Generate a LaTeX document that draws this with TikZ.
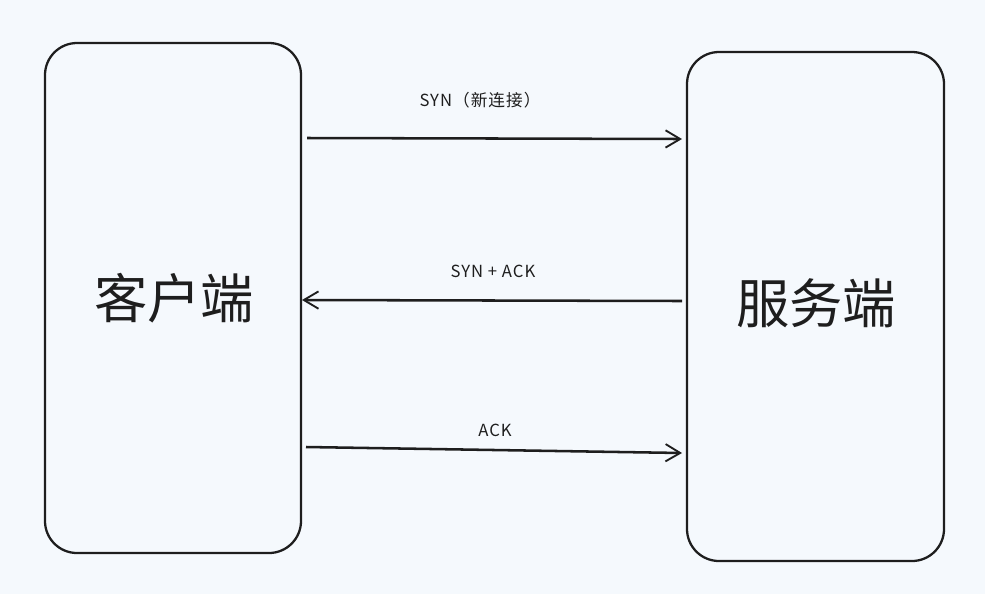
\documentclass[tikz,border=0pt]{standalone}
\usepackage{fontspec}
\setmainfont{Noto Sans CJK SC}
\newfontfamily\lblfont[LetterSpace=6]{Noto Sans CJK SC}
\usetikzlibrary{arrows.meta}
\definecolor{bgc}{HTML}{F5F9FD}
\definecolor{ink}{HTML}{1E1E1E}
\begin{document}
\begin{tikzpicture}[x=0.75pt,y=-0.75pt,
  sidebox/.style={draw=ink,line width=1.7pt,rounded corners=24pt,inner sep=0pt},
  msg/.style={draw=ink,line width=1.9pt,-{Straight Barb[length=11pt,width=13pt,line width=1.4pt]}},
  lbl/.style={font=\lblfont\fontsize{12.5}{14}\selectfont,text=ink,inner sep=0pt},
  big/.style={font=\fontsize{40}{44}\selectfont,text=ink}]
\fill[bgc] (0,0) rectangle (985,594);
\useasboundingbox (0,0) rectangle (985,594);
\node[sidebox,minimum width=192pt,minimum height=382.5pt] (client) at (173,298) {};
\node[sidebox,minimum width=192.75pt,minimum height=381.75pt] (server) at (815.5,306.5) {};
\node[big] (ctext) at (174,298) {客户端};
\node[big] (stext) at (816,303) {服务端};
\coordinate (a1s) at (307,138);
\coordinate (a1e) at (682,139);
\coordinate (a2s) at (682,301);
\coordinate (a2e) at (302,300);
\coordinate (a3s) at (306,447);
\coordinate (a3e) at (682,453);
\draw[msg] (a1s) -- (a1e);
\draw[msg] (a2s) -- (a2e);
\draw[msg] (a3s) -- (a3e);
\node[lbl] (l1) at (480,100) {SYN（新连接）};
\node[lbl] (l2) at (493,271) {SYN + ACK};
\node[lbl] (l3) at (495,430) {ACK};
\end{tikzpicture}
\end{document}
